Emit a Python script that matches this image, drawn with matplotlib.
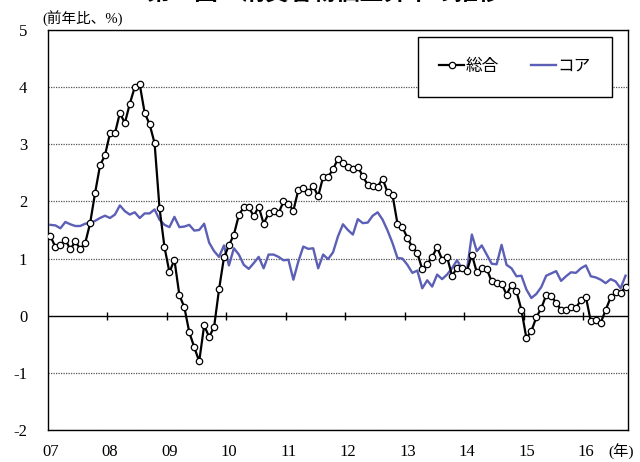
import numpy as np
import matplotlib
matplotlib.use("Agg")
import matplotlib.pyplot as plt
import matplotlib.transforms as mtransforms

plt.rcParams['font.family'] = ['Liberation Serif', 'Noto Sans CJK JP', 'DejaVu Sans']

# monthly y/y (%), Jan 2007 .. Sep 2016
headline = [1.39, 1.20, 1.24, 1.33, 1.16, 1.30, 1.17, 1.27, 1.62, 2.15, 2.63, 2.81,
            3.19, 3.19, 3.55, 3.37, 3.71, 4.00, 4.05, 3.55, 3.35, 3.02, 1.88, 1.20,
            0.76, 0.98, 0.36, 0.15, -0.29, -0.55, -0.80, -0.17, -0.37, -0.20, 0.46, 1.02,
            1.23, 1.42, 1.76, 1.90, 1.90, 1.74, 1.91, 1.61, 1.79, 1.83, 1.79, 2.00,
            1.96, 1.84, 2.20, 2.24, 2.16, 2.27, 2.09, 2.43, 2.43, 2.56, 2.75, 2.67,
            2.60, 2.56, 2.61, 2.44, 2.29, 2.27, 2.26, 2.40, 2.16, 2.11, 1.61, 1.55,
            1.36, 1.20, 1.10, 0.81, 0.90, 1.03, 1.20, 0.98, 1.03, 0.70, 0.83, 0.83,
            0.78, 1.07, 0.76, 0.83, 0.82, 0.60, 0.57, 0.56, 0.37, 0.54, 0.43, 0.10,
            -0.39, -0.27, -0.03, 0.13, 0.36, 0.34, 0.23, 0.10, 0.10, 0.16, 0.13, 0.28,
            0.33, -0.10, -0.07, -0.12, 0.10, 0.32, 0.41, 0.39, 0.51]
core = [1.59, 1.58, 1.53, 1.64, 1.60, 1.57, 1.57, 1.61, 1.62, 1.66, 1.71, 1.75,
        1.71, 1.77, 1.93, 1.83, 1.77, 1.81, 1.71, 1.79, 1.79, 1.86, 1.68, 1.59,
        1.55, 1.73, 1.55, 1.56, 1.59, 1.49, 1.50, 1.61, 1.28, 1.13, 1.03, 1.23,
        0.88, 1.18, 1.07, 0.89, 0.82, 0.92, 1.03, 0.83, 1.07, 1.07, 1.03, 0.97,
        0.98, 0.63, 0.95, 1.21, 1.17, 1.18, 0.83, 1.07, 0.99, 1.11, 1.39, 1.60,
        1.50, 1.42, 1.69, 1.62, 1.63, 1.75, 1.81, 1.68, 1.49, 1.27, 1.01, 1.00,
        0.89, 0.75, 0.79, 0.48, 0.62, 0.51, 0.72, 0.64, 0.72, 0.83, 0.97, 0.83,
        0.79, 1.42, 1.13, 1.23, 1.07, 0.91, 0.90, 1.24, 0.89, 0.83, 0.69, 0.70,
        0.46, 0.31, 0.38, 0.50, 0.70, 0.74, 0.78, 0.61, 0.69, 0.76, 0.75, 0.83,
        0.88, 0.69, 0.67, 0.63, 0.57, 0.64, 0.60, 0.48, 0.70]
years = ['07', '08', '09', '10', '11', '12', '13', '14', '15', '16']
yticks = [-2, -1, 0, 1, 2, 3, 4, 5]

x = np.arange(len(headline))
bounds = np.arange(len(years)) * 12 - 0.5   # year boundaries in month units

fig = plt.figure(figsize=(6.4, 4.62), dpi=100)
ax = fig.add_axes([48/640, 1-430/462, 580/640, 400/462])

for v in yticks:
    if v == 0:
        ax.axhline(0, color='black', lw=1.0, zorder=1)
    else:
        ax.axhline(v, color='#555555', lw=0.9, ls=(0, (1, 1)), zorder=1)
ax.vlines(bounds[1:], -0.07, 0.07, color='black', lw=1.0, zorder=1)

ax.plot(x, core, color='#5b5fb5', lw=1.7, label='コア', zorder=2)
ax.plot(x, headline, color='black', lw=1.6, marker='o', ms=4.6, mfc='white',
        mec='black', mew=0.9, label='総合', zorder=3)

ax.set_xlim(-0.5, len(headline) - 0.5)
ax.set_ylim(-2, 5)
ax.set_yticks(yticks)
ax.set_yticklabels([str(v) for v in yticks], fontsize=12)
ax.tick_params(axis='y', length=0, pad=15)
ax.set_xticks([])
for s in ax.spines.values():
    s.set_color('black'); s.set_linewidth(1.0)

tr = mtransforms.blended_transform_factory(ax.transData, ax.transAxes)
for b, lab in zip(bounds, years):
    ax.text(b + 0.5, -0.055, lab, transform=tr, ha='center', va='center', fontsize=12)
ax.text(bounds[-1] + 7.6, -0.055, '(年)', transform=tr, ha='center', va='center', fontsize=11)

h, l = ax.get_legend_handles_labels()
leg = ax.legend(h[::-1], l[::-1], ncol=2, loc='center', bbox_to_anchor=(515/640, 1-67/462),
                bbox_transform=fig.transFigure, fontsize=12, frameon=True, fancybox=False,
                edgecolor='black', framealpha=1, handlelength=1.5, handletextpad=0.1,
                columnspacing=1.9, borderpad=1.3)
leg.get_frame().set_linewidth(1.0)

fig.text(42/640, 1-18/462, '(前年比、%)', fontsize=10.5, ha='left', va='center')
fig.text(324/640, 1-5/462, '第１図　消費者物価上昇率の推移', fontsize=17, fontweight='bold',
         ha='center', va='bottom')

fig.savefig('out.png', dpi=100)
